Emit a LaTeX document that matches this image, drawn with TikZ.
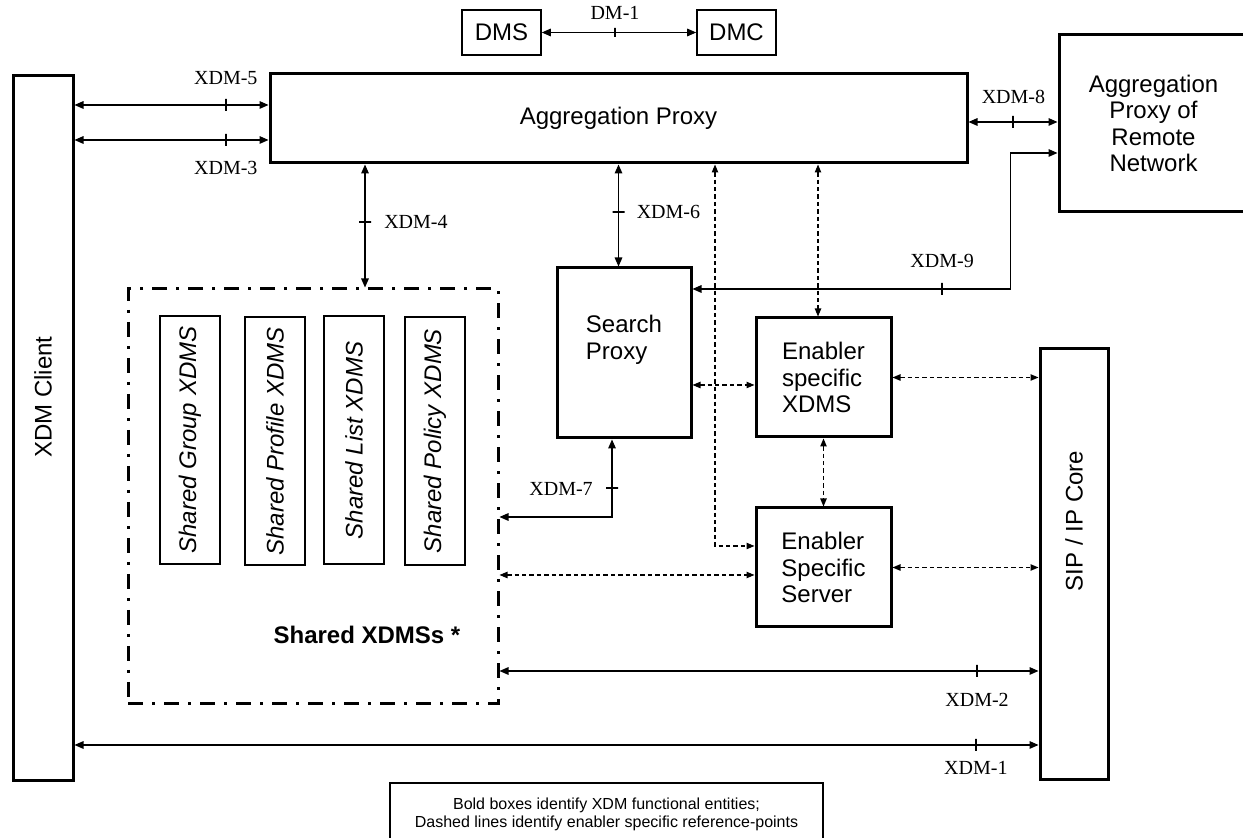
\documentclass[tikz,border=0pt]{standalone}
\usepackage{fontspec}
\setmainfont{Liberation Sans}
\newfontfamily\refpointfont{Liberation Serif}
\usetikzlibrary{arrows.meta}

\begin{document}
\begin{tikzpicture}[x=0.5pt, y=-0.5pt,
          entity/.style={draw, line width=1.5pt, inner sep=0pt, align=left,
                         font=\fontsize{12}{13.2}\selectfont},
          thinbox/.style={draw, line width=0.8pt, inner sep=0pt, font=\fontsize{12}{13.2}\selectfont},
          sharedframe/.style={draw, line width=1.5pt, dash pattern=on 7.5pt off 4.5pt on 1.5pt off 4.5pt},
          sharedbox/.style={draw, line width=1pt, rotate=90, minimum width=124pt, minimum height=30pt,
                            inner sep=0pt, font=\itshape\fontsize{12}{13.2}\selectfont},
          boxtext/.style={inner sep=0pt, align=left, font=\fontsize{12}{13.2}\selectfont},
          rp/.style={line width=0.6pt, {Triangle[length=4.5pt,width=3.8pt]}-{Triangle[length=4.5pt,width=3.8pt]}},
          esrp/.style={line width=0.55pt, dash pattern=on 2.2pt off 1.5pt,
                       {Triangle[length=4pt,width=3.2pt]}-{Triangle[length=4pt,width=3.2pt]}},
          rptick/.style={draw, solid, line width=1pt, inner sep=0pt, minimum width=0pt, minimum height=6pt},
          rptickh/.style={rptick, minimum width=6pt, minimum height=0pt},
          rplabel/.style={font=\refpointfont\fontsize{10}{12}\selectfont}
        ]
        \useasboundingbox (0,0) rectangle (1243,838);

        \node[entity, minimum width=30pt, minimum height=352.5pt] (client) at (43,428.5) {};
        \node[boxtext, rotate=90] (clientname) at ([yshift=15.75pt]client.center) {XDM Client};
        \node[entity, minimum width=348.5pt, minimum height=44.5pt] (aggr) at (618.5,118.5) {Aggregation Proxy};
        \node[thinbox, minimum width=39.5pt, minimum height=22.5pt] (dms) at (501.5,32.5) {DMS};
        \node[thinbox, minimum width=39.5pt, minimum height=22.5pt] (dmc) at (736.5,32.5) {DMC};
        \node[entity, minimum width=94.5pt, minimum height=88.5pt, align=center] (remote) at (1153.5,123.5)
              {Aggregation\\Proxy of\\Remote\\Network};

        \node[sharedframe, minimum width=185pt, minimum height=207.5pt] (shared) at (313,496.5) {};
        \node[sharedbox] (sgroup) at (190,440) {Shared Group XDMS};
        \node[sharedbox] (sprofile) at (275,441.5) {Shared Profile XDMS};
        \node[sharedbox] (slist) at (354,440.5) {Shared List XDMS};
        \node[sharedbox] (spolicy) at (435,441) {Shared Policy XDMS};
        \node[font=\bfseries\fontsize{12}{13.2}\selectfont] (sharedname)
              at ([xshift=27pt,yshift=-69.25pt]shared.center) {Shared XDMSs *};

        \node[entity, minimum width=67pt, minimum height=85pt] (search) at (624,353) {};
        \node[boxtext] (searchname) at ([yshift=6.5pt]search.center) {Search\\Proxy};
        \node[entity, minimum width=67.5pt, minimum height=59.5pt] (exdms) at (823.5,377.5) {Enabler\\specific\\XDMS};
        \node[entity, minimum width=67.5pt, minimum height=59.5pt] (eserver) at (823.5,567.5) {Enabler\\Specific\\Server};
        \node[entity, minimum width=34pt, minimum height=215.5pt] (sip) at (1074,564.5) {};
        \node[boxtext, rotate=90] (sipname) at ([yshift=21.75pt]sip.center) {SIP / IP Core};

        \node[draw, line width=1.2pt, minimum width=216.5pt, minimum height=31pt, align=center,
              font=\fontsize{8}{9}\selectfont] (legend) at (606.5,814)
              {Bold boxes identify XDM functional entities;\\Dashed lines identify enabler specific reference-points};

        % reference points
        \draw[rp] (dms.east) -- (dmc.west)
              node[rptick, minimum height=4.5pt, pos=0.474, label={[rplabel]above:DM-1}] (tdm1) {};
        \draw[rp] ([yshift=6.75pt]aggr.west -| client.east) -- ([yshift=6.75pt]aggr.west)
              node[rptick, pos=0.78, label={[rplabel, label distance=3pt]above:XDM-5}] (t5) {};
        \draw[rp] ([yshift=-10.75pt]aggr.west -| client.east) -- ([yshift=-10.75pt]aggr.west)
              node[rptick, pos=0.78, label={[rplabel, label distance=3.5pt]below:XDM-3}] (t3) {};
        \draw[rp] ([xshift=-126.75pt]aggr.south) -- ([xshift=-126.75pt]aggr.south |- shared.north)
              node[rptickh, pos=0.47, label={[rplabel, label distance=2.5pt]right:XDM-4}] (t4) {};
        \draw[rp] (aggr.south) -- (aggr.south |- search.north)
              node[rptickh, pos=0.467, label={[rplabel, label distance=2pt]right:XDM-6}] (t6) {};
        \draw[rp] ([xshift=-6pt]search.south) |- ([yshift=-10.25pt]shared.east)
              node[rptickh, pos=0.316, label={[rplabel, label distance=2.5pt]left:XDM-7}] (t7) {};
        \draw[rp] ([yshift=-1.75pt]aggr.east) -- ([yshift=-1.75pt]aggr.east -| remote.west)
              node[rptick, pos=0.505, label={[rplabel, label distance=2pt]above:XDM-8}] (t8) {};
        \draw[rp] ([yshift=32pt]search.east) -| ([xshift=-23.5pt,yshift=-14.75pt]remote.west)
              node[rptick, pos=0.3925, label={[rplabel, label distance=3.5pt]above:XDM-9}] (t9) {}
              -- ([yshift=-14.75pt]remote.west);
        \draw[rp] ([yshift=-87.25pt]shared.east) -- ([yshift=-87.25pt]shared.east -| sip.west)
              node[rptick, pos=0.886, label={[rplabel, label distance=3.75pt]below:XDM-2}] (t2) {};
        \draw[rp] ([yshift=-158.25pt]client.east) -- ([yshift=-158.25pt]client.east -| sip.west)
              node[rptick, pos=0.935, label={[rplabel, label distance=1.25pt]below:XDM-1}] (t1) {};

        % enabler specific reference points
        \draw[esrp] ([xshift=48.25pt]aggr.south) |- ([yshift=10.75pt]eserver.west);
        \draw[esrp] ([xshift=-2.75pt]exdms.north |- aggr.south) -- ([xshift=-2.75pt]exdms.north);
        \draw[esrp] ([yshift=-16pt]search.east) -- ([yshift=-16pt]search.east -| exdms.west);
        \draw[esrp] (exdms.south) -- (eserver.north);
        \draw[esrp] ([yshift=-39.25pt]shared.east) -- ([yshift=-39.25pt]shared.east -| eserver.west);
        \draw[esrp] (exdms.east) -- (exdms.east -| sip.west);
        \draw[esrp] (eserver.east) -- (eserver.east -| sip.west);
      \end{tikzpicture}
\end{document}
